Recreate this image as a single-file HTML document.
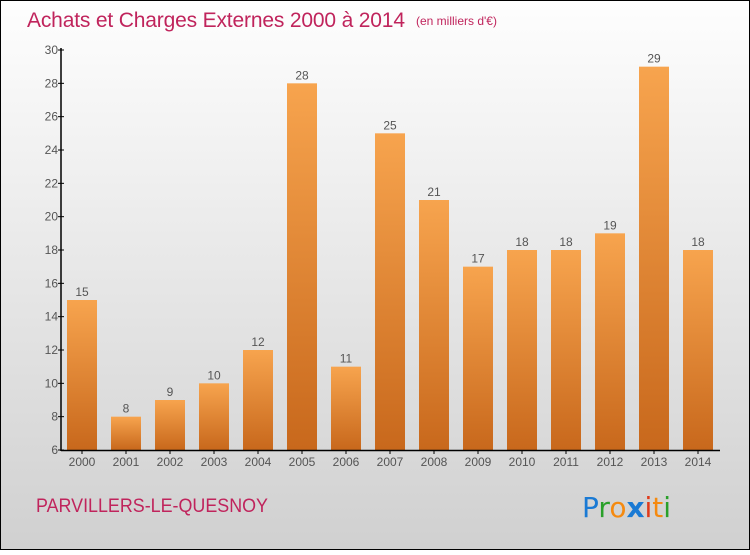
<!DOCTYPE html>
<html><head><meta charset="utf-8"><style>
body{margin:0;width:750px;height:550px;overflow:hidden;font-family:"Liberation Sans",sans-serif}
</style></head><body>
<svg width="750" height="550">
<defs>
<linearGradient id="bg" x1="0" y1="0" x2="0" y2="1"><stop offset="0" stop-color="#fefefe"/><stop offset="1" stop-color="#d0d0d0"/></linearGradient>
<linearGradient id="bar" x1="0" y1="0" x2="0" y2="1"><stop offset="0" stop-color="#f7a44e"/><stop offset="1" stop-color="#c8681c"/></linearGradient>
</defs>
<rect x="0.5" y="0.5" width="749" height="549" fill="url(#bg)" stroke="#000"/>
<text x="27" y="27" font-size="21" fill="#c0245c" textLength="378">Achats et Charges Externes 2000 à 2014</text>
<text x="416" y="25" font-size="12" fill="#c0245c">(en milliers d'€)</text>
<g id="plot"></g>
<text x="36" y="512" font-size="19" fill="#c0245c" textLength="232" lengthAdjust="spacingAndGlyphs">PARVILLERS-LE-QUESNOY</text>
<g font-size="28" font-family="'DejaVu Sans',sans-serif">
<text x="582" y="517"><tspan fill="#1a7ad4">P</tspan><tspan fill="#2aa02a">r</tspan><tspan fill="#f58a10">o</tspan><tspan fill="#1a7ad4" font-weight="bold">x</tspan><tspan fill="#e03a1a">i</tspan><tspan fill="#f58a10">t</tspan><tspan fill="#2aa02a">i</tspan></text>
</g>
</svg>
<script>
const years=["2000","2001","2002","2003","2004","2005","2006","2007","2008","2009","2010","2011","2012","2013","2014"];
const values=[15,8,9,10,12,28,11,25,21,17,18,18,19,29,18];
const yTicks=[6,8,10,12,14,16,18,20,22,24,26,28,30];
const NS="http://www.w3.org/2000/svg";
const g=document.getElementById('plot');
const y=v=>450-(v-6)*400/24;
const x=i=>82+i*44;
function mk(t,a,txt){const e=document.createElementNS(NS,t);for(const k in a)e.setAttribute(k,a[k]);if(txt!==undefined)e.textContent=txt;g.appendChild(e);return e;}
values.forEach((v,i)=>{
 const r=mk('rect',{x:x(i)-15,y:y(v),width:30,height:450-y(v),fill:'url(#bar)'});
 
 
 const l=mk('text',{x:x(i),y:y(v)-4,'font-size':12,fill:'#555','text-anchor':'middle'},String(v));
 
 
 const t=mk('text',{x:x(i),y:466,'font-size':12,fill:'#555','text-anchor':'middle'},years[i]);
 
 
 mk('line',{x1:x(i),x2:x(i),y1:450,y2:454,stroke:'#000'});
});
yTicks.forEach(v=>{
 mk('line',{x1:58,x2:64,y1:y(v),y2:y(v),stroke:'#000'});
 const t=mk('text',{x:58,y:y(v)+4,'font-size':12,fill:'#555','text-anchor':'end'},String(v));
 
 
});
const ya=mk('line',{x1:61,x2:61,y1:48,y2:451,stroke:'#000','stroke-width':1.5});


const xa=mk('line',{x1:61,x2:720,y1:450.5,y2:450.5,stroke:'#000','stroke-width':1.5});


</script>
</body></html>
